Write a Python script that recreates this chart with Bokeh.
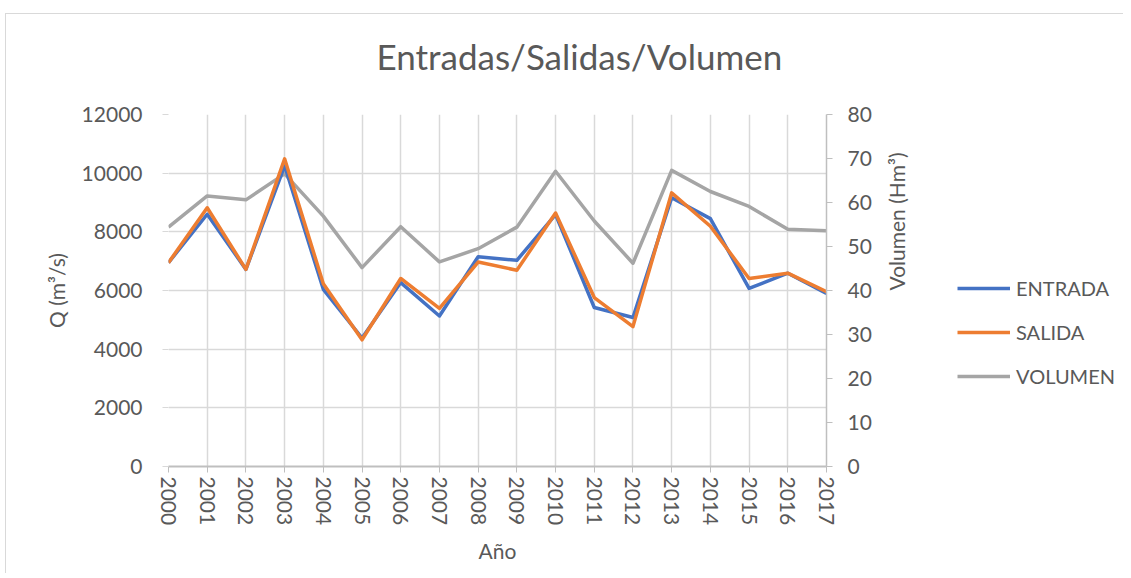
import math
from bokeh.plotting import figure
from bokeh.layouts import row
from bokeh.models import Range1d, LinearAxis, FixedTicker, Legend, LegendItem, Title
from bokeh.embed import file_html
from bokeh.resources import INLINE

years = [2000, 2001, 2002, 2003, 2004, 2005, 2006, 2007, 2008,
         2009, 2010, 2011, 2012, 2013, 2014, 2015, 2016, 2017]
entrada = [6950, 8600, 6720, 10250, 6040, 4380, 6270, 5130, 7150,
           7030, 8590, 5420, 5080, 9160, 8450, 6070, 6590, 5900]
salida = [6950, 8820, 6720, 10490, 6230, 4320, 6410, 5390, 6970,
          6690, 8640, 5760, 4770, 9330, 8190, 6410, 6590, 5960]
volumen = [54.4, 61.5, 60.6, 66.5, 56.9, 45.2, 54.5, 46.5, 49.5,
           54.4, 67.1, 55.8, 46.2, 67.3, 62.5, 59.1, 53.9, 53.6]
series_names = ["ENTRADA", "SALIDA", "VOLUMEN"]
series_colors = ["#4472C4", "#ED7D31", "#A5A5A5"]
q_ticks = [0, 2000, 4000, 6000, 8000, 10000, 12000]
v_ticks = [0, 10, 20, 30, 40, 50, 60, 70, 80]

FONT = "Lato"
TXT = "#595959"
GRID = "#d9d9d9"
AXL = "#bfbfbf"

p = figure(width=918, height=560, output_backend="svg", toolbar_location=None,
           x_range=Range1d(2000, 2017), y_range=Range1d(0, 12000),
           min_border_left=162, min_border_right=90,
           min_border_top=100, min_border_bottom=108)
p.margin = (13, 0, 0, 5)
p.extra_y_ranges = {"vol": Range1d(0, 80)}
p.outline_line_color = None
p.background_fill_color = "white"
p.border_fill_color = "white"
p.styles = {"border-top": "1px solid #d9d9d9", "border-left": "1px solid #d9d9d9"}

# spacer (closest to the frame) and the real title above it
spacer = Title(text=" ", text_font=FONT, text_font_size="30px", standoff=0)
title = Title(text="Entradas/Salidas/Volumen", align="left", offset=208, standoff=0,
              text_font=FONT, text_font_size="35px", text_font_style="normal",
              text_color=TXT)
p.add_layout(spacer, "above")
p.add_layout(title, "above")

# grids
p.xgrid.ticker = FixedTicker(ticks=years)
p.ygrid.ticker = FixedTicker(ticks=q_ticks)
for g in (p.xgrid, p.ygrid):
    g.grid_line_color = GRID
    g.grid_line_width = 1.5

# bottom axis
xa = p.xaxis[0]
xa.ticker = FixedTicker(ticks=years)
xa.major_label_orientation = "vertical"
xa.axis_label = "Año"
xa.axis_line_color = AXL
xa.axis_line_width = 2
xa.major_tick_line_color = AXL
xa.major_tick_out = 6
xa.major_tick_in = 0
xa.minor_tick_line_color = None
xa.major_label_standoff = 4
xa.axis_label_standoff = 10

# left axis
ya = p.yaxis[0]
ya.ticker = FixedTicker(ticks=q_ticks)
ya.axis_label = "Q (m³/s)"
ya.axis_line_color = None
ya.major_tick_line_color = GRID
ya.major_tick_out = 6
ya.major_tick_in = 0
ya.minor_tick_line_color = None
ya.major_label_standoff = 20
ya.axis_label_standoff = 10

# right axis
ra = LinearAxis(y_range_name="vol", ticker=FixedTicker(ticks=v_ticks),
                axis_label="Volumen (Hm³)")
ra.axis_line_color = AXL
ra.axis_line_width = 1.5
ra.major_tick_line_color = AXL
ra.major_tick_out = 6
ra.major_tick_in = 0
ra.minor_tick_line_color = None
ra.major_label_standoff = 15
ra.axis_label_standoff = 22
ra.axis_label_orientation = math.pi / 2
p.add_layout(ra, "right")

for ax in (xa, ya, ra):
    ax.major_label_text_font = FONT
    ax.major_label_text_font_size = "21px"
    ax.major_label_text_color = TXT
    ax.axis_label_text_font = FONT
    ax.axis_label_text_font_size = "21px"
    ax.axis_label_text_font_style = "normal"
    ax.axis_label_text_color = TXT

p.line(years, volumen, y_range_name="vol", line_color=series_colors[2],
       line_width=3.5, line_join="round")
p.line(years, entrada, line_color=series_colors[0], line_width=3.5, line_join="round")
p.line(years, salida, line_color=series_colors[1], line_width=3.5, line_join="round")

# legend panel (separate figure to the right; its series lie outside its ranges)
lg = figure(width=200, height=560, output_backend="svg", toolbar_location=None,
            x_range=Range1d(0, 1), y_range=Range1d(0, 1),
            min_border=0, x_axis_type=None, y_axis_type=None)
lg.margin = (13, 0, 0, 0)
lg.outline_line_color = None
lg.xgrid.visible = False
lg.ygrid.visible = False
lg.border_fill_color = "white"
lg.background_fill_color = "white"
lg.styles = {"border-top": "1px solid #d9d9d9"}

items = []
for name, col, vals in zip(series_names, series_colors, [entrada, salida, volumen]):
    r = lg.line(x=years, y=vals, line_color=col, line_width=3.5)
    items.append(LegendItem(label=name, renderers=[r]))

legend = Legend(items=items, location=(34, 78))
legend.border_line_color = None
legend.background_fill_alpha = 0
legend.padding = 0
legend.margin = 0
legend.glyph_width = 53
legend.glyph_height = 20
legend.label_height = 20
legend.spacing = 20
legend.label_standoff = 6
legend.label_text_font = FONT
legend.label_text_font_size = "20px"
legend.label_text_color = TXT
lg.add_layout(legend, "center")

layout = row(p, lg)
open("out.html", "w").write(file_html(layout, INLINE))
